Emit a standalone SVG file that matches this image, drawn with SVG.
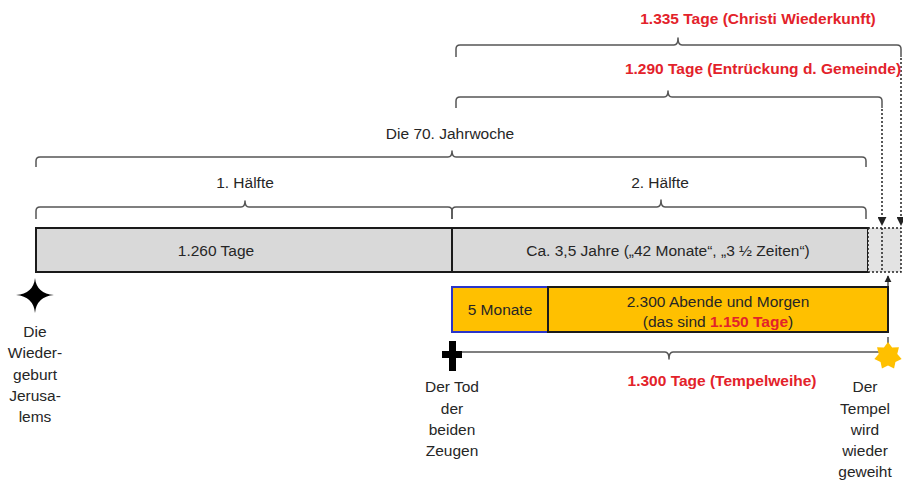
<svg xmlns="http://www.w3.org/2000/svg" width="903" height="480" viewBox="0 0 903 480">
<defs>
<style>
.t{font-family:"Liberation Sans",Arial,sans-serif;font-size:15.5px;fill:#262626;text-anchor:middle}
.r{font-family:"Liberation Sans",Arial,sans-serif;font-size:15.5px;font-weight:bold;fill:#e3222a;text-anchor:middle}
.br{fill:none;stroke:#555;stroke-width:1.5;stroke-linejoin:round}
.dot{fill:none;stroke:#222;stroke-width:1.5;stroke-dasharray:2 2}
</style>
<marker id="ah" viewBox="0 0 10 10" refX="9" refY="5" markerWidth="6" markerHeight="6" orient="auto-start-reverse">
<path d="M0,0 L10,5 L0,10 Z" fill="#222"/>
</marker>
</defs>
<rect width="903" height="480" fill="#fff"/>

<g id="connectors">
<path class="br" d="M456,57 L456,49 Q456,45 460,45 L674,45 Q678,45 678,38 Q678,45 682,45 L897,45 Q901,45 901,49 L901,57"/>
<path class="br" d="M456,108 L456,101 Q456,97 460,97 L664,97 Q668,97 668,91 Q668,97 672,97 L878,97 Q882,97 882,101 L882,108"/>
<path class="br" d="M36,167 L36,161 Q36,157 40,157 L448,157 Q452,157 452,151 Q452,157 456,157 L862,157 Q866,157 866,161 L866,167"/>
<path class="br" d="M36,219 L36,211 Q36,207 40,207 L241,207 Q245,207 245,201 Q245,207 249,207 L448,207 Q452,207 452,211 L452,219"/>
<path class="br" d="M452,219 L452,211 Q452,207 456,207 L657,207 Q661,207 661,200 Q661,207 665,207 L862,207 Q866,207 866,211 L866,219"/>
<path class="br" d="M452,342 L452,348 Q452,352 456,352 L665,352 Q669,352 669,359 Q669,352 673,352 L884,352 Q888,352 888,348 L888,337"/>
<line class="dot" x1="901" y1="58" x2="901" y2="225" marker-end="url(#ah)"/>
<line class="dot" x1="882" y1="109" x2="882" y2="225" marker-end="url(#ah)"/>
<line x1="888" y1="287" x2="888" y2="276" stroke="#222" stroke-width="1.2" marker-end="url(#ah)"/>
</g>

<g id="label-1335"><text class="r" x="758" y="24">1.335 Tage (Christi Wiederkunft)</text></g>
<g id="label-1290"><text class="r" x="763" y="74">1.290 Tage (Entrückung d. Gemeinde)</text></g>
<g id="label-jahrwoche"><text class="t" x="450" y="139">Die 70. Jahrwoche</text></g>
<g id="label-h1"><text class="t" x="245" y="188">1. Hälfte</text></g>
<g id="label-h2"><text class="t" x="660" y="188">2. Hälfte</text></g>

<g id="bar-1260">
<rect x="36" y="228" width="416" height="44" fill="#d9d9d9" stroke="#1a1a1a" stroke-width="2"/>
<text class="t" x="216" y="256">1.260 Tage</text>
</g>
<g id="bar-35">
<rect x="452" y="228" width="416" height="44" fill="#d9d9d9" stroke="#1a1a1a" stroke-width="2"/>
<text class="t" x="668" y="256">Ca. 3,5 Jahre („42 Monate“, „3 ½ Zeiten“)</text>
</g>
<g id="bar-extension">
<rect x="868" y="228" width="33" height="44" fill="#e3e3e3"/>
<rect class="dot" x="868" y="228" width="33" height="44"/>
<line class="dot" x1="882" y1="228" x2="882" y2="272"/>
</g>

<g id="bar-5monate">
<rect x="452" y="287" width="96" height="45" fill="#ffc000" stroke="#2a35c9" stroke-width="2"/>
<text class="t" x="500" y="315">5 Monate</text>
</g>
<g id="bar-2300">
<rect x="548" y="287" width="340" height="45" fill="#ffc000" stroke="#1a1a1a" stroke-width="2"/>
<text class="t" x="718" y="307">2.300 Abende und Morgen</text>
<text class="t" x="718" y="327">(das sind <tspan style="fill:#e3222a;font-weight:bold">1.150 Tage</tspan>)</text>
</g>

<g id="label-1300"><text class="r" x="722" y="386">1.300 Tage (Tempelweihe)</text></g>

<g id="event-jerusalem">
<path d="M35,278 Q36.5,293.5 54,295 Q36.5,296.5 35,313 Q33.5,296.5 16,295 Q33.5,293.5 35,278 Z" fill="#000"/>
<text class="t" x="35" y="337">Die</text>
<text class="t" x="35" y="358">Wieder-</text>
<text class="t" x="35" y="380">geburt</text>
<text class="t" x="35" y="401">Jerusa-</text>
<text class="t" x="35" y="422">lems</text>
</g>

<g id="event-zeugen">
<path d="M449,341 H456 V351 H462 V358 H456 V371 H449 V358 H442 V351 H449 Z" fill="#000"/>
<text class="t" x="452" y="392">Der Tod</text>
<text class="t" x="452" y="414">der</text>
<text class="t" x="452" y="435">beiden</text>
<text class="t" x="452" y="456">Zeugen</text>
</g>

<g id="event-tempel">
<polygon fill="#ffc000" points="888,342 892.12,347.44 898.95,347.27 897.26,353.89 901.65,359.12 895.43,361.92 894.07,368.61 888,365.5 881.93,368.61 880.57,361.92 874.35,359.12 878.74,353.89 877.05,347.27 883.88,347.44"/>
<text class="t" x="865" y="392">Der</text>
<text class="t" x="865" y="414">Tempel</text>
<text class="t" x="865" y="435">wird</text>
<text class="t" x="865" y="456">wieder</text>
<text class="t" x="865" y="477">geweiht</text>
</g>
</svg>
